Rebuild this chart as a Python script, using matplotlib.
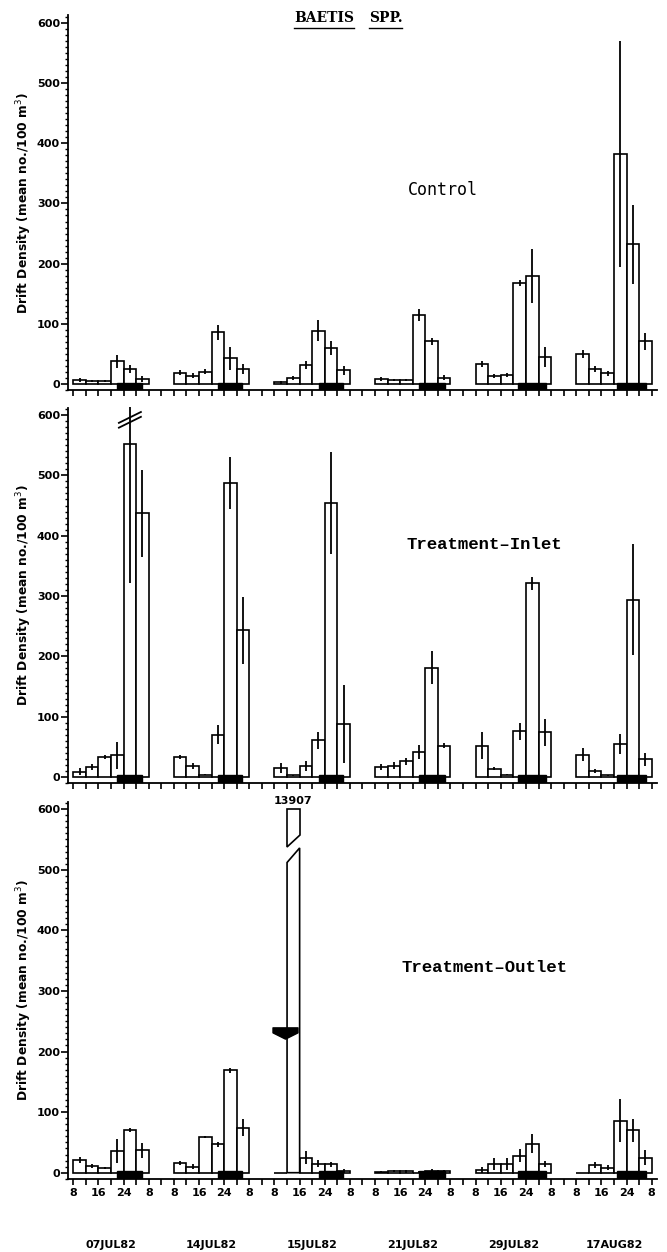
import matplotlib
matplotlib.use("Agg")
import matplotlib.pyplot as plt
import numpy as np
from matplotlib.patches import Polygon, Rectangle
from matplotlib.path import Path
from matplotlib.ticker import MultipleLocator

# ---------------- data ----------------
dates = ['07JUL82', '14JUL82', '15JUL82', '21JUL82', '29JUL82', '17AUG82']
interval_start_hours = [8, 12, 16, 20, 24, 28]   # 4-h sampling intervals (hour of day, 28 = 4 next day)
hour_tick_labels = ['8', '16', '24', '8']

control_mean = [
    [7, 5, 5, 38, 25, 9],
    [19, 14, 21, 86, 43, 25],
    [3, 10, 32, 89, 60, 23],
    [9, 7, 7, 115, 71, 11],
    [33, 14, 15, 168, 179, 45],
    [50, 25, 18, 382, 232, 71],
]
control_err = [
    [3, 2, 2, 11, 7, 5],
    [4, 4, 4, 12, 19, 8],
    [2, 3, 7, 18, 12, 8],
    [3, 2, 2, 10, 6, 4],
    [5, 3, 3, 5, 45, 17],
    [7, 5, 4, 187, 66, 14],
]
inlet_mean = [
    [9, 16, 33, 36, 552, 437],
    [33, 18, 4, 70, 488, 243],
    [15, 3, 18, 61, 454, 88],
    [17, 19, 26, 41, 181, 52],
    [52, 14, 4, 76, 321, 74],
    [37, 10, 3, 55, 294, 29],
]
inlet_err = [
    [6, 5, 3, 22, 230, 72],
    [3, 5, 1, 16, 43, 56],
    [8, 1, 8, 14, 85, 65],
    [5, 5, 6, 12, 27, 4],
    [22, 3, 1, 14, 11, 22],
    [11, 4, 1, 17, 92, 10],
]
outlet_mean = [
    [21, 11, 8, 36, 70, 37],
    [16, 10, 59, 47, 169, 74],
    [0, 13907, 25, 15, 14, 3],
    [1, 3, 2, 0, 3, 2],
    [4, 15, 15, 28, 48, 15],
    [0, 13, 8, 86, 70, 25],
]
outlet_err = [
    [5, 3, 2, 20, 3, 12],
    [4, 4, 2, 4, 4, 14],
    [0, 0, 10, 6, 4, 3],
    [2, 2, 2, 2, 3, 2],
    [5, 10, 10, 11, 16, 5],
    [0, 5, 4, 36, 19, 12],
]
# night (darkness) periods, hour of day (values > 24 = next morning)
night_start = [22.0, 22.1, 22.1, 21.9, 21.5, 21.0]
night_end = [29.8, 29.7, 29.8, 30.1, 30.3, 30.2]

# treatment application marker (outlet, 15JUL82)
treatment_date_index = 2
treatment_hour = 11.3
treatment_level = 230

panels = [
    ("Control", control_mean, control_err),
    ("Treatment\u2013Inlet", inlet_mean, inlet_err),
    ("Treatment\u2013Outlet", outlet_mean, outlet_err),
]

# ---------------- layout ----------------
GROUP_SPAN = 32          # hours between the starts of consecutive date groups
BAR_W = 4
YMAX_SHOW = 600
YLIM = (-10, 612)
XLIM = (-1.6, 185.7)

fig = plt.figure(figsize=(6.67, 12.52), dpi=100)
axes_rects = [
    [0.1024, 0.6883, 0.8826, 0.2994],
    [0.1024, 0.3746, 0.8826, 0.2997],
    [0.1024, 0.0585, 0.8826, 0.3010],
]
label_pos = [(117.6, 322), (130.9, 386), (130.7, 338)]
label_font = [dict(family='DejaVu Sans Mono', fontsize=12, fontweight='normal'),
              dict(family='Liberation Mono', fontsize=12.5, fontweight='bold'),
              dict(family='Liberation Mono', fontsize=12.5, fontweight='bold')]

def xpos(gi, hour):
    return gi * GROUP_SPAN + (hour - 8)

lw = 1.2
for pi, (name, means, errs) in enumerate(panels):
    ax = fig.add_axes(axes_rects[pi])
    ax.set_xlim(*XLIM)
    ax.set_ylim(*YLIM)
    for s in ['top', 'right']:
        ax.spines[s].set_visible(False)
    ax.spines['left'].set_linewidth(1.3)
    ax.spines['bottom'].set_linewidth(1.3)

    for gi in range(len(dates)):
        # night bar
        ns, ne = xpos(gi, night_start[gi]), xpos(gi, night_end[gi])
        ax.add_patch(Rectangle((ns, YLIM[0]), ne - ns, 2.5 - YLIM[0],
                               facecolor='black', edgecolor='black', zorder=4))
        for bi, h in enumerate(interval_start_hours):
            x0 = xpos(gi, h)
            m = means[gi][bi]
            e = errs[gi][bi]
            xc = x0 + BAR_W / 2
            if m > YMAX_SHOW:
                # broken bar
                x1 = x0 + BAR_W
                lower = Polygon([(x0, 0), (x0, 512), (x1, 536), (x1, 0)], closed=True,
                                facecolor='white', edgecolor='black', lw=lw, zorder=3)
                upper = Polygon([(x0, 537), (x0, YMAX_SHOW), (x1, YMAX_SHOW), (x1, 558)],
                                closed=True, facecolor='white', edgecolor='black',
                                lw=lw, zorder=3)
                ax.add_patch(lower)
                ax.add_patch(upper)
                ax.text(xc, YMAX_SHOW + 5, f"{m}", ha='center', va='bottom',
                        fontsize=8, fontweight='bold', family='DejaVu Sans',
                        clip_on=False)
                continue
            ax.bar(x0, m, width=BAR_W, align='edge', facecolor='white',
                   edgecolor='black', linewidth=lw, zorder=2)
            if e > 0:
                top = m + e
                clipped = top > YLIM[1]
                ax.vlines(xc, max(m - e, 0), min(top, YLIM[1] + 2), color='black',
                          lw=1.3, zorder=3, clip_on=False)
                if clipped:
                    for dy in (-4, 4):
                        yb = 592 + dy
                        ax.plot([xc - 3.5, xc + 3.5], [yb - 9, yb + 9], color='black',
                                lw=1.3, zorder=5, clip_on=False)

    if pi == 2:
        tx = xpos(treatment_date_index, treatment_hour)
        verts = [(-1, 0.45), (1, 0.45), (1, 0.05), (0, -0.45), (-1, 0.05), (-1, 0.45)]
        marker = Path(verts, [Path.MOVETO] + [Path.LINETO] * 4 + [Path.CLOSEPOLY])
        ax.plot([tx], [treatment_level], marker=marker, markersize=18,
                color='black', zorder=6, linestyle='none')

    # ticks
    ax.set_yticks(np.arange(0, 601, 100))
    ax.yaxis.set_minor_locator(MultipleLocator(10))
    ax.tick_params(axis='y', which='major', direction='out', length=5, width=1.2,
                   labelsize=8, pad=1)
    ax.tick_params(axis='y', which='minor', direction='out', length=2.5, width=1.0)
    for lab in ax.get_yticklabels():
        lab.set_fontweight('bold')

    xt = np.arange(0, 185, 4)
    ax.set_xticks(xt)
    ax.tick_params(axis='x', which='major', direction='out', length=4, width=1.2,
                   labelsize=8, pad=3)
    if pi == 2:
        labels = []
        for v in xt:
            off = v % GROUP_SPAN
            labels.append(hour_tick_labels[off // 8] if off % 8 == 0 and off <= 24 else '')
        ax.set_xticklabels(labels, fontweight='bold')
        for gi, d in enumerate(dates):
            ax.text(xpos(gi, 20), -0.175, d, transform=ax.get_xaxis_transform(),
                    ha='center', va='center', fontsize=8, fontweight='bold')
    else:
        ax.set_xticklabels([])

    ax.set_ylabel("Drift Density (mean no./100 m$^3$)", fontsize=8.8,
                  fontweight='bold')
    ax.yaxis.set_label_coords(-0.058, 0.5)

    lx, ly = label_pos[pi]
    ax.text(lx, ly, name, ha='center', va='center', **label_font[pi])

# title with underlines
t1 = fig.text(0.486, 0.9855, "BAETIS", ha='center', va='center', fontsize=10,
              fontweight='bold', family='DejaVu Serif')
t2 = fig.text(0.578, 0.9855, "SPP.", ha='center', va='center', fontsize=10,
              fontweight='bold', family='DejaVu Serif')
fig.canvas.draw()
r = fig.canvas.get_renderer()
for t in (t1, t2):
    bb = t.get_window_extent(renderer=r).transformed(fig.transFigure.inverted())
    fig.add_artist(plt.Line2D([bb.x0, bb.x1], [bb.y0 - 0.002, bb.y0 - 0.002],
                              color='black', lw=1.0, transform=fig.transFigure))

fig.savefig("out.png", dpi=100)
